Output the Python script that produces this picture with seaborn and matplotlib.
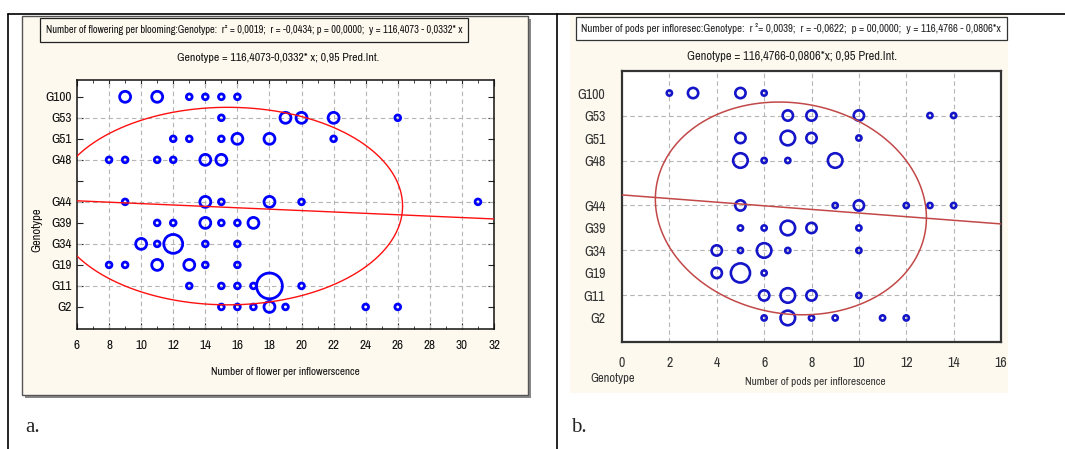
import numpy as np
import pandas as pd
import seaborn as sns
import matplotlib.pyplot as plt
from matplotlib.patches import Rectangle
from matplotlib.lines import Line2D
from matplotlib import font_manager as fm

# genotype order on the y axis, bottom to top ('' is the empty slot)
genotype_order = ['G2', 'G11', 'G19', 'G34', 'G39', 'G44', '', 'G48', 'G51', 'G53', 'G100']

# panel a: number of flowers per inflorescence
flower_geno = (['G100'] * 6 + ['G53'] * 5 + ['G51'] * 6 + ['G48'] * 6 + ['G44'] * 6 +
               ['G39'] * 6 + ['G34'] * 5 + ['G19'] * 6 + ['G11'] * 6 + ['G2'] * 7)
flower_x = [9, 11, 13, 14, 15, 16,
            15, 19, 20, 22, 26,
            12, 13, 15, 16, 18, 22,
            8, 9, 11, 12, 14, 15,
            9, 14, 15, 18, 20, 31,
            11, 12, 14, 15, 16, 17,
            10, 11, 12, 14, 16,
            8, 9, 11, 13, 14, 16,
            13, 15, 16, 17, 18, 20,
            15, 16, 17, 18, 19, 24, 26]
flower_n = [2, 2, 1, 1, 1, 1,
            1, 2, 2, 2, 1,
            1, 1, 1, 2, 2, 1,
            1, 1, 1, 1, 2, 2,
            1, 2, 1, 2, 1, 1,
            1, 1, 2, 1, 1, 2,
            2, 1, 3, 1, 1,
            1, 1, 2, 2, 1, 1,
            1, 1, 1, 1, 4, 1,
            1, 1, 1, 2, 1, 1, 1]

# panel b: number of pods per inflorescence
pod_geno = (['G100'] * 4 + ['G53'] * 5 + ['G51'] * 4 + ['G48'] * 4 + ['G44'] * 6 +
            ['G39'] * 5 + ['G34'] * 5 + ['G19'] * 3 + ['G11'] * 4 + ['G2'] * 6)
pod_x = [2, 3, 5, 6,
         7, 8, 10, 13, 14,
         5, 7, 8, 10,
         5, 6, 7, 9,
         5, 9, 10, 12, 13, 14,
         5, 6, 7, 8, 10,
         4, 5, 6, 7, 10,
         4, 5, 6,
         6, 7, 8, 10,
         6, 7, 8, 9, 11, 12]
pod_n = [1, 2, 2, 1,
         2, 2, 2, 1, 1,
         2, 3, 2, 1,
         3, 1, 1, 3,
         2, 1, 2, 1, 1, 1,
         1, 1, 3, 2, 1,
         2, 1, 3, 1, 1,
         2, 4, 1,
         2, 3, 2, 1,
         1, 3, 1, 1, 1, 1]

# regression line (in y-slot units) and 0.95 prediction ellipse
flower_line = (5.25, -0.0332)
flower_ellipse = (15.4, 4.8, 10.9, 4.7, 0.0)
pod_line = (5.47, -0.0806)
pod_ellipse = (7.13, 4.87, 5.7, 4.73, -0.5)

flower_title = ('Number of flowering per blooming:Genotype:  r\u00b2 = 0,0019;  r = -0,0434; '
                'p = 00,0000;  y = 116,4073 - 0,0332* x')
flower_sub = 'Genotype = 116,4073-0,0332* x; 0,95 Pred.Int.'
pod_title = ('Number of pods per infloresec:Genotype:  r \u00b2= 0,0039;  r = -0,0622;  '
             'p = 00,0000;  y = 116,4766 - 0,0806*x')
pod_sub = 'Genotype = 116,4766-0,0806*x; 0,95 Pred.Int.'

sns.set_theme(style='white')
plt.rcParams['font.family'] = ['Liberation Sans', 'DejaVu Sans']


# look for a condensed sans face (the original uses Arial Narrow)
def pick_narrow():
    found = []
    for f in fm.fontManager.ttflist:
        if f.style != 'normal' or str(f.weight) not in ('400', 'normal', 'regular', 'book'):
            continue
        if 'Narrow' in f.name:
            found.append((0, f.fname))
        elif f.stretch in ('condensed', 'semi-condensed') and 'Sans' in f.name:
            found.append((1, f.fname))
        elif 'Condensed' in f.name:
            found.append((2, f.fname))
    if found:
        return fm.FontProperties(fname=sorted(found)[0][1])
    return fm.FontProperties(family=['Liberation Sans', 'DejaVu Sans'])


narrow = pick_narrow()

W, H = 1065, 449
fig = plt.figure(figsize=(W / 100, H / 100), dpi=100)
fig.patch.set_facecolor('white')
renderer = fig.canvas.get_renderer()


def box(l, t, r, b):
    return [l / W, 1 - b / H, (r - l) / W, (b - t) / H]


def fx(x):
    return x / W


def fy(y):
    return 1 - y / H


def fit_text(x, y, s, width, size, **kw):
    t = fig.text(fx(x), fy(y), s, ha='center', va='center', fontproperties=narrow, **kw)
    t.set_fontsize(size)
    w = t.get_window_extent(renderer).width
    if w > width:
        t.set_fontsize(size * width / w)
    return t


cream = '#fdf9ef'
# table borders
fig.add_artist(Line2D([fx(8), fx(1065)], [fy(14), fy(14)], color='black', lw=1.2))
fig.add_artist(Line2D([fx(8), fx(8)], [fy(14), fy(449)], color='black', lw=1.2))
fig.add_artist(Line2D([fx(557), fx(557)], [fy(14), fy(449)], color='black', lw=1.2))

# panel backgrounds
fig.add_artist(Rectangle((fx(25), fy(398)), (528 - 22) / W, (395 - 16) / H, zorder=-10,
                         transform=fig.transFigure, facecolor='#888888', edgecolor='none'))
fig.add_artist(Rectangle((fx(22), fy(395)), (528 - 22) / W, (395 - 16) / H, zorder=-9,
                         transform=fig.transFigure, facecolor=cream, edgecolor='#555555', lw=1))
fig.add_artist(Rectangle((fx(570), fy(393)), (1008 - 570) / W, (393 - 14) / H, zorder=-9,
                         transform=fig.transFigure, facecolor=cream, edgecolor='none'))

# title boxes
fig.add_artist(Rectangle((fx(40), fy(42)), (468 - 40) / W, 24 / H, transform=fig.transFigure,
                         facecolor=cream, edgecolor='#222222', lw=0.9, zorder=-8))
fit_text(254, 30, flower_title, 418, 9, color='#111111')
fit_text(278, 58, flower_sub, 250, 8.5, color='#111111')
fig.add_artist(Rectangle((fx(576), fy(40)), (1007 - 576) / W, 23 / H, transform=fig.transFigure,
                         facecolor='white', edgecolor='#333333', lw=0.9, zorder=-8))
fit_text(791, 29, pod_title, 420, 9.5, color='#222222')
fit_text(792, 56, pod_sub, 235, 9, color='#222222')


def draw_panel(ax, geno, xs, ns, sizes, color, lw, line, ell, line_color, line_lw, xlim, fsize):
    df = pd.DataFrame({'geno': geno, 'x': xs, 'n': ns})
    df['y'] = df['geno'].map({g: i for i, g in enumerate(genotype_order)})
    sns.scatterplot(data=df, x='x', y='y', size='n', sizes=sizes, legend=False, ax=ax,
                    color=color, facecolors='none', edgecolor=color, linewidth=lw, zorder=3)
    xx = np.linspace(xlim[0], xlim[1], 50)
    ax.plot(xx, line[0] + line[1] * xx, color=line_color, lw=line_lw, zorder=4)
    cx, cy, a, b, m = ell
    t = np.linspace(0, 2 * np.pi, 300)
    ax.plot(cx + a * np.cos(t) + m * np.sin(t), cy + b * np.sin(t),
            color=line_color, lw=line_lw, zorder=4)
    ax.set_xlim(*xlim)
    ax.set_yticks(range(len(genotype_order)))
    ax.set_yticklabels(genotype_order)
    ax.set_xticks(np.arange(xlim[0], xlim[1] + 1, 2))
    for xv in np.arange(xlim[0] + 2, xlim[1], 2):
        ax.axvline(xv, color='#b5b5b5', lw=0.8, ls=(0, (4, 3)), zorder=1)
    for yv in [1, 3, 5, 7, 9]:
        ax.axhline(yv, color='#b5b5b5', lw=0.8, ls=(0, (4, 3)), zorder=1)
    ax.set_xlabel('')
    ax.set_ylabel('')
    for lab in ax.get_xticklabels() + ax.get_yticklabels():
        lab.set_fontproperties(narrow)
        lab.set_fontsize(fsize)


# panel a
ax1 = fig.add_axes(box(77, 80, 494, 329))
ax1.set_facecolor('white')
draw_panel(ax1, flower_geno, flower_x, flower_n, {1: 17, 2: 62, 3: 185, 4: 345},
           '#0000ff', 2.0, flower_line, flower_ellipse, '#ff1010', 1.0, (6, 32), 9.5)
ax1.set_ylim(-1.05, 10.8)
ax1.set_xticks(np.arange(6, 33, 1), minor=True)
ax1.tick_params(which='both', direction='in', top=True, right=True, left=True, bottom=True,
                color='#222222')
ax1.tick_params(which='major', length=4, width=0.8, pad=8, labelcolor='#111111')
ax1.tick_params(which='minor', length=2, width=0.6)
ax1.tick_params(axis='y', pad=4)
for s in ax1.spines.values():
    s.set_color('#111111')
    s.set_linewidth(1.1)
fit_text(37, 230, 'Genotype', 60, 9, rotation=90, color='#111111')
fit_text(285, 372, 'Number of flower per inflowerscence', 150, 9, color='#111111')

# panel b
ax2 = fig.add_axes(box(622, 71, 1001, 342))
ax2.set_facecolor('white')
draw_panel(ax2, pod_geno, pod_x, pod_n, {1: 14, 2: 55, 3: 110, 4: 190},
           '#1414c8', 1.9, pod_line, pod_ellipse, '#c24848', 1.1, (0, 16), 10)
ax2.set_ylim(-1.07, 10.98)
ax2.tick_params(which='both', left=False, bottom=False, right=False, top=False)
ax2.tick_params(labelcolor='#333333', pad=6)
ax2.tick_params(axis='x', pad=4)
for s in ax2.spines.values():
    s.set_color('#333333')
    s.set_linewidth(1.6)
for yv in [1, 3, 5, 7, 9]:
    ax2.plot([16 - 0.1, 16], [yv, yv], color='#333333', lw=0.8, clip_on=False)
fit_text(613, 378, 'Genotype', 45, 9, color='#333333')
fit_text(815, 382, 'Number of pods per inflorescence', 140, 9.5, color='#333333')

# row labels
fig.text(fx(25), fy(427), 'a.', fontsize=15, family=['Liberation Serif', 'DejaVu Serif'],
         va='center', ha='left')
fig.text(fx(571), fy(427), 'b.', fontsize=15, family=['Liberation Serif', 'DejaVu Serif'],
         va='center', ha='left')

fig.savefig('out.png', dpi=100)
